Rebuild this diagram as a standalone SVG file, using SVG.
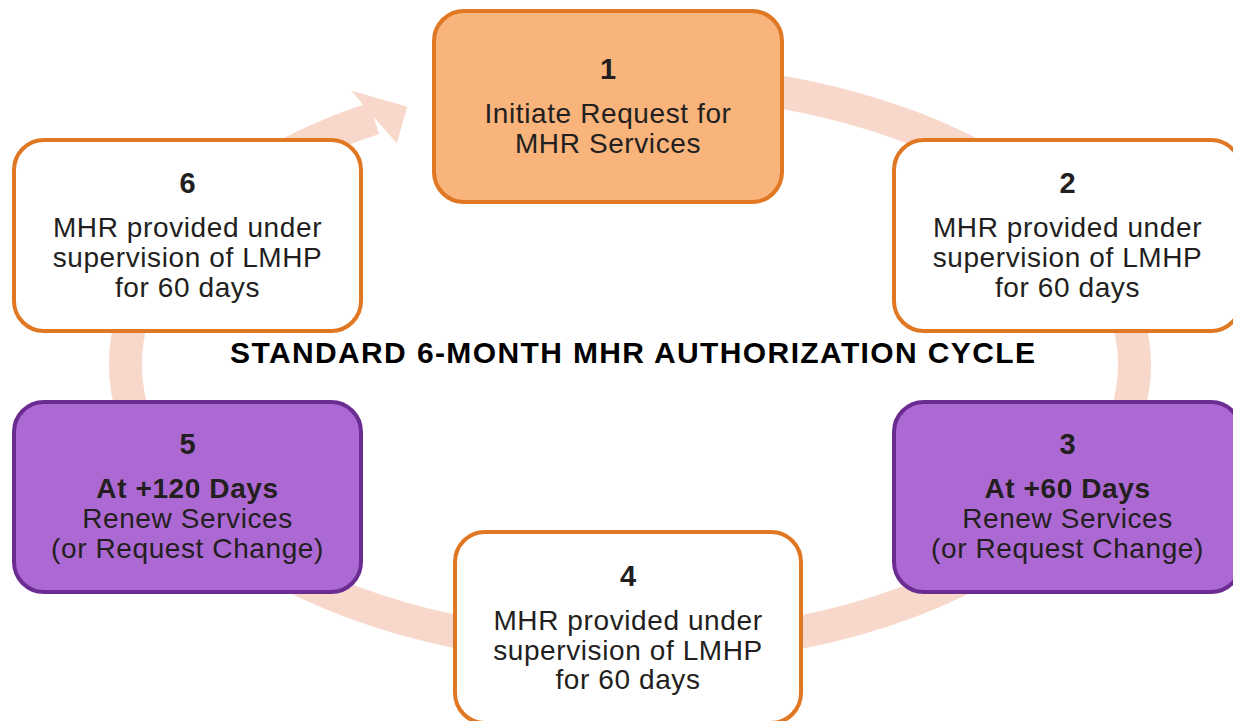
<svg xmlns="http://www.w3.org/2000/svg" width="1233" height="721" viewBox="0 0 1233 721">
<style>
.box-o{fill:#ffffff;stroke:#E07722;stroke-width:4}
.box-1{fill:#F8B47B;stroke:#E07722;stroke-width:4}
.box-p{fill:#AD69D3;stroke:#6A2C91;stroke-width:4}
text{font-family:"Liberation Sans",Arial,Helvetica,sans-serif;fill:#231F20;text-anchor:middle}
.num{font-size:29px;font-weight:bold}
.body{font-size:28px;letter-spacing:0.6px}
.bold{font-size:28px;font-weight:bold;letter-spacing:0.6px}
.title{font-size:30px;font-weight:bold;fill:#000000}
.ring{fill:none;stroke:#F9D8CC;stroke-width:33}
</style>
<rect width="1233" height="721" fill="#ffffff"/>
<g id="connectors">
<path class="ring" d="M 630 79 A 504.5 285 0 1 1 374 118.4"/>
<polygon points="407.3,106.7 351.7,90.7 361.7,103.3 386.7,131.7 396.7,143.3" fill="#F9D8CC"/>
</g>
<text class="title" x="632.5" y="363" textLength="805" lengthAdjust="spacing">STANDARD 6-MONTH MHR AUTHORIZATION CYCLE</text>
<g id="node1">
<rect class="box-1" x="434" y="11" width="348" height="191" rx="30"/>
<text class="num" x="608" y="79">1</text>
<text class="body" x="608" y="123">Initiate Request for</text>
<text class="body" x="608" y="153">MHR Services</text>
</g>
<g id="node2">
<rect class="box-o" x="894" y="140" width="347" height="191" rx="30"/>
<text class="num" x="1067.5" y="193">2</text>
<text class="body" x="1067.5" y="237">MHR provided under</text>
<text class="body" x="1067.5" y="267">supervision of LMHP</text>
<text class="body" x="1067.5" y="297">for 60 days</text>
</g>
<g id="node3">
<rect class="box-p" x="894" y="402" width="347" height="190" rx="30"/>
<text class="num" x="1067.5" y="454">3</text>
<text class="bold" x="1067.5" y="498">At +60 Days</text>
<text class="body" x="1067.5" y="528">Renew Services</text>
<text class="body" x="1067.5" y="558">(or Request Change)</text>
</g>
<g id="node4">
<rect class="box-o" x="455" y="532" width="346" height="191" rx="30"/>
<text class="num" x="628" y="586">4</text>
<text class="body" x="628" y="630">MHR provided under</text>
<text class="body" x="628" y="660">supervision of LMHP</text>
<text class="body" x="628" y="689">for 60 days</text>
</g>
<g id="node5">
<rect class="box-p" x="14" y="402" width="347" height="190" rx="30"/>
<text class="num" x="187.5" y="454">5</text>
<text class="bold" x="187.5" y="498">At +120 Days</text>
<text class="body" x="187.5" y="528">Renew Services</text>
<text class="body" x="187.5" y="558">(or Request Change)</text>
</g>
<g id="node6">
<rect class="box-o" x="14" y="140" width="347" height="191" rx="30"/>
<text class="num" x="187.5" y="193">6</text>
<text class="body" x="187.5" y="237">MHR provided under</text>
<text class="body" x="187.5" y="267">supervision of LMHP</text>
<text class="body" x="187.5" y="297">for 60 days</text>
</g>
</svg>
